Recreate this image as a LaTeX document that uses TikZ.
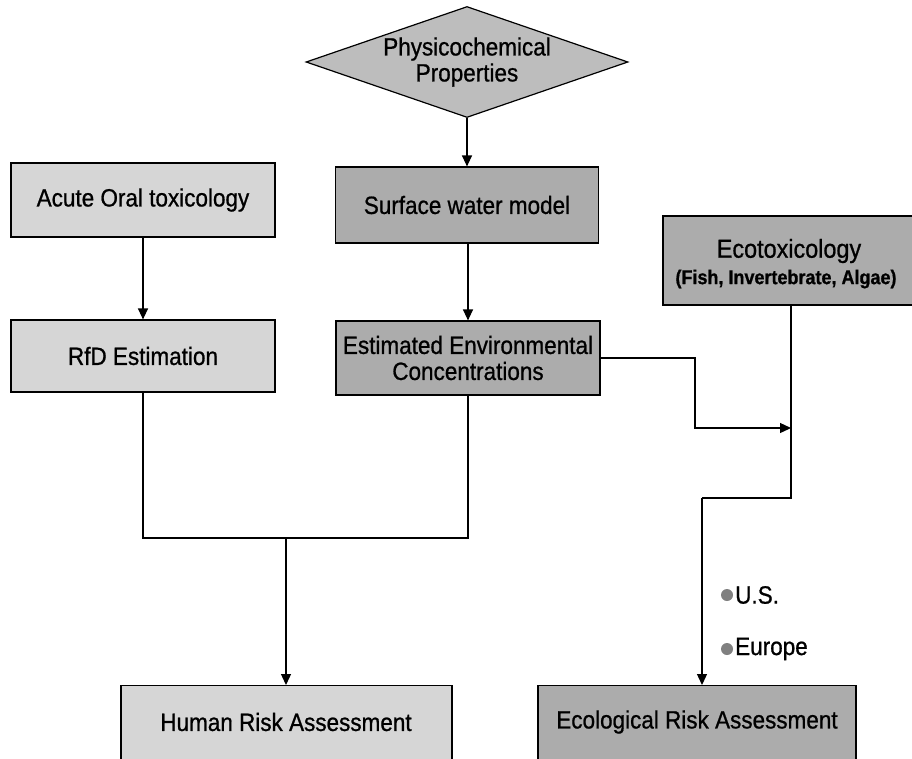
\documentclass[tikz,border=0pt]{standalone}
\usepackage{fontspec}
\setmainfont{Liberation Sans}[FakeStretch=0.9,FakeBold=0.8]
\usetikzlibrary{shapes.geometric,arrows.meta,calc}
\definecolor{lightbox}{HTML}{D6D6D6}
\definecolor{darkbox}{HTML}{ACACAC}
\definecolor{diafill}{HTML}{BDBDBD}
\definecolor{bulletgray}{HTML}{808080}
\begin{document}
\begin{tikzpicture}[x=1pt,y=-1pt,
  every node/.style={font=\fontsize{25}{29}\selectfont, align=center},
  boxlight/.style={draw=black, line width=1.2pt, fill=lightbox, inner sep=0pt},
  boxdark/.style={draw=black, line width=1.2pt, fill=darkbox, inner sep=0pt},
  conn/.style={line width=1.3pt},
  arr/.style={conn, -{Triangle[length=11pt,width=10pt]}}]
\useasboundingbox (0,0) rectangle (912,758);
\fill[white] (0,0) rectangle (912,758);
% diamond
\node[diamond, draw=black, line width=1.2pt, fill=diafill, minimum width=322pt, minimum height=111pt, inner sep=0pt] (phys) at (467,62) {};
\node at (phys) {Physicochemical\\[-3pt]Properties};
% boxes
\node[boxlight, minimum width=264pt, minimum height=74pt] (acute) at (143,200) {Acute Oral toxicology};
\node[boxlight, minimum width=264pt, minimum height=72pt] (rfd) at (143,356) {RfD Estimation};
\node[boxdark, minimum width=263pt, minimum height=76pt] (surf) at (467,205) {Surface water model};
\node[boxdark, minimum width=264pt, minimum height=74pt] (eec) at (468,358) {Estimated Environmental\\[-3pt]Concentrations};
\node[boxdark, minimum width=254pt, minimum height=89pt] (eco) at (790,260.5) {};
\node[font=\fontsize{26}{30}\selectfont] at (789,251) {Ecotoxicology};
\node[font=\fontsize{20}{24}\selectfont\bfseries] at (786,279) {(Fish, Invertebrate, Algae)};
\node[boxlight, minimum width=331pt, minimum height=77pt, anchor=north] (human) at (286.5,685) {};
\node at (286,722) {Human Risk Assessment};
\node[boxdark, minimum width=318pt, minimum height=77pt, anchor=north] (ecorisk) at (697,685) {};
\node at (697,722) {Ecological Risk Assessment};
% legend bullets
\fill[bulletgray] (727,595) circle (6pt);
\node[anchor=west, font=\fontsize{25}{29}\selectfont, inner sep=0pt] (us) at (735,595) {U.S.};
\fill[bulletgray] (727,649) circle (6pt);
\node[anchor=west, font=\fontsize{25}{29}\selectfont, inner sep=0pt] (eu) at (735,649) {Europe};
% junctions
\coordinate (m) at (286,538);
\coordinate (j) at (791,428);
\coordinate (k) at (791,498);
\coordinate (k2) at (702,498);
% connectors
\draw[arr] (phys.south) -- (phys.south |- surf.north);
\draw[arr] (acute.south) -- (rfd.north);
\draw[arr] (surf.south -| eec.north) -- (eec.north);
\draw[conn] (rfd.south) |- (m);
\draw[conn] (eec.south) |- (m);
\draw[arr] (m) -- (m |- human.north);
\draw[arr] (eec.east) -- (695,358) -- (695,428) -- (j);
\draw[conn] (eco.south -| j) -- (k) -- (k2);
\draw[arr] (k2) -- (k2 |- ecorisk.north);
\end{tikzpicture}
\end{document}
